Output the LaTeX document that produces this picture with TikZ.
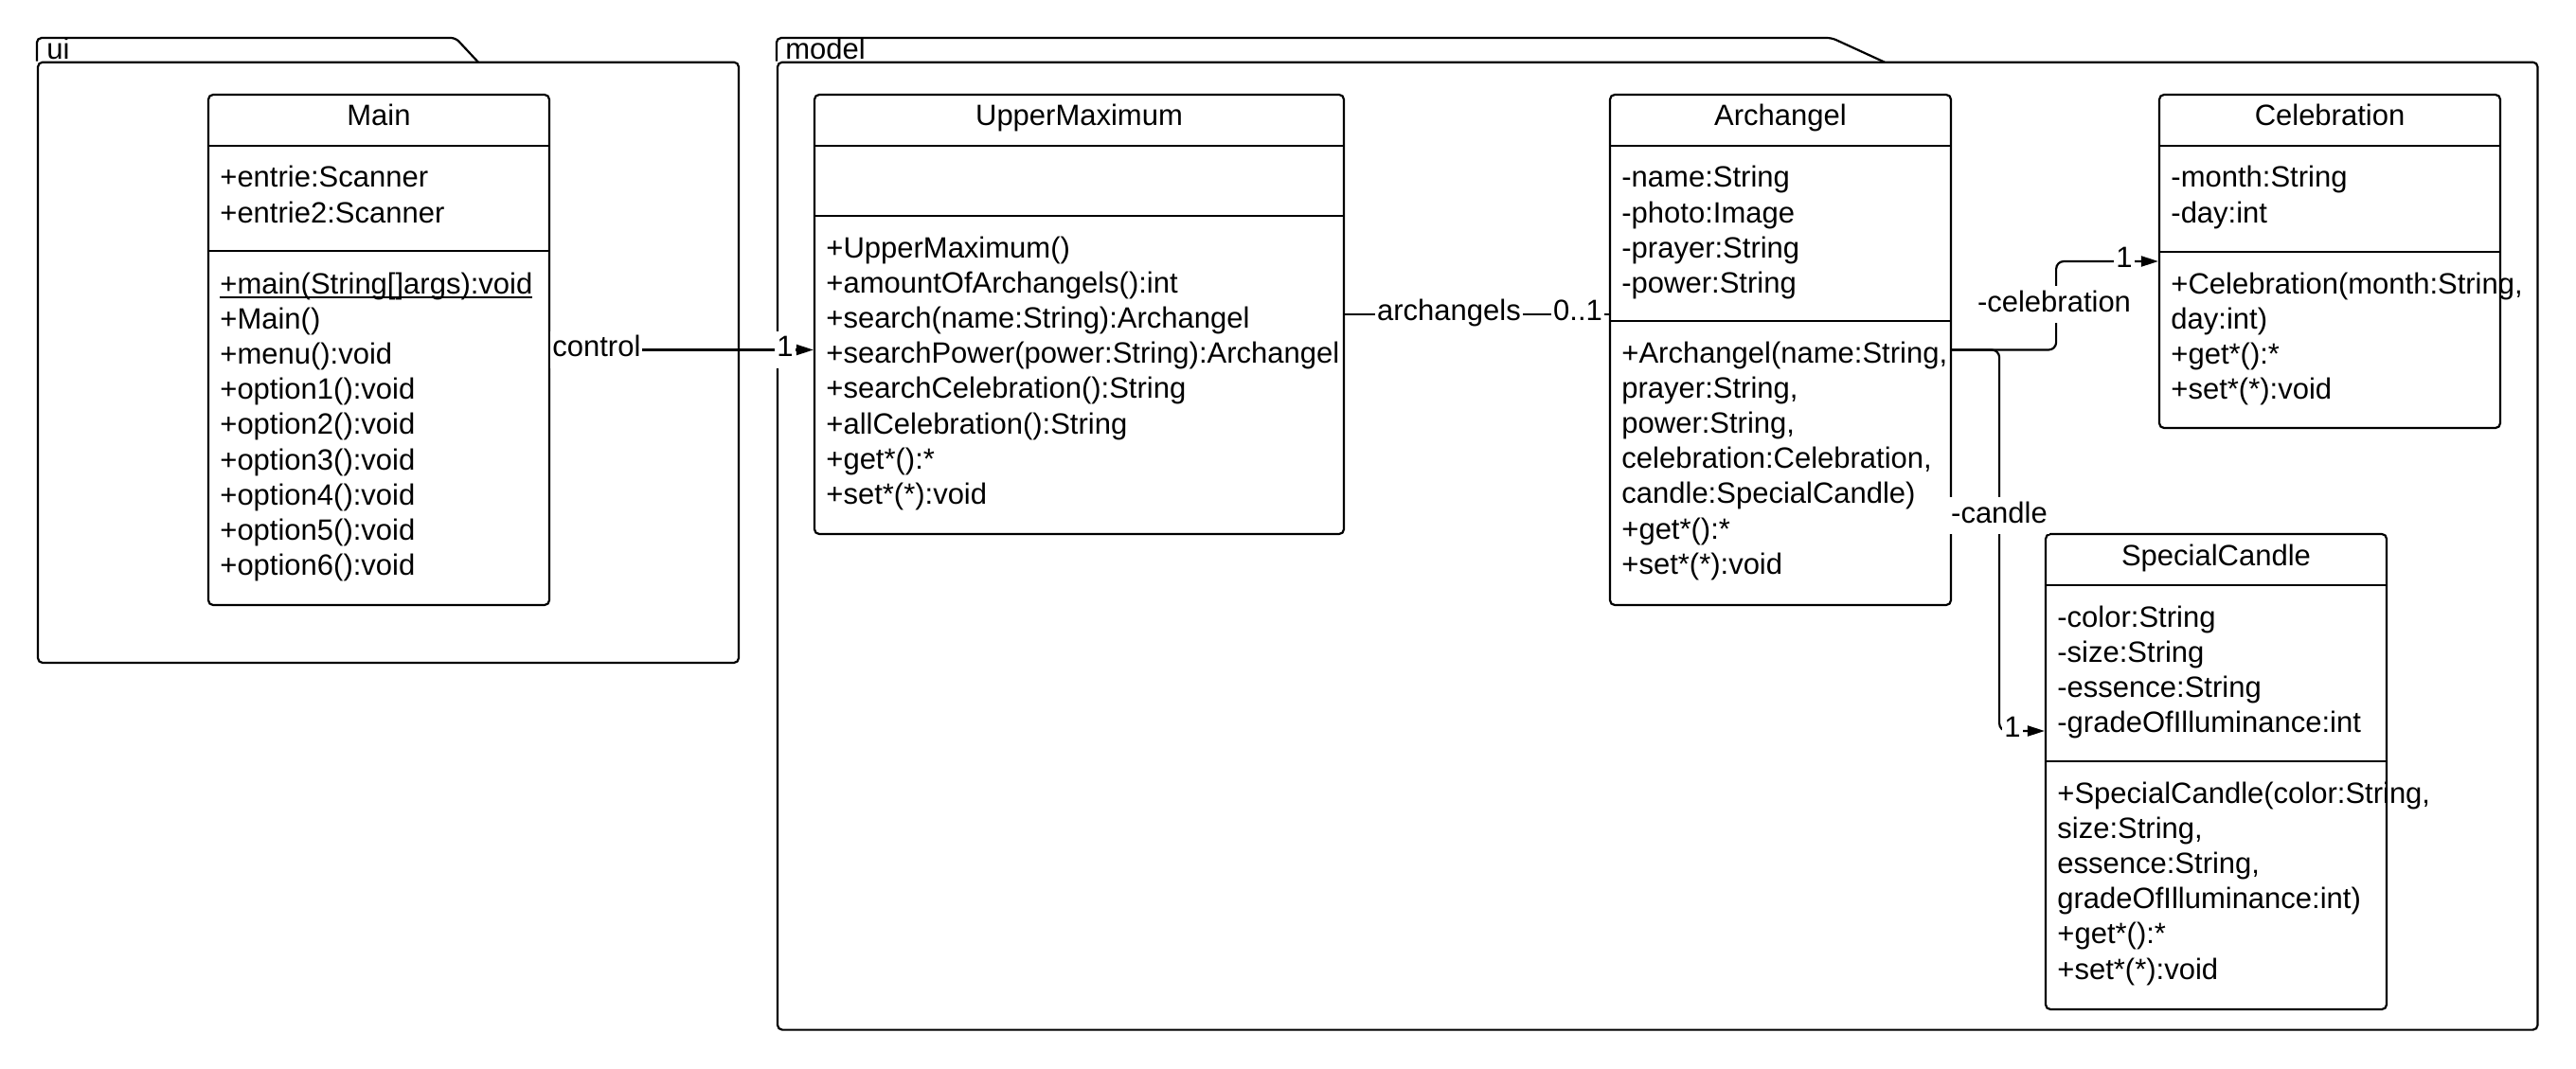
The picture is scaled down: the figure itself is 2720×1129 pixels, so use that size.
\documentclass[tikz,border=0pt]{standalone}
\usepackage{fontspec}
\setmainfont{Liberation Sans}
\usetikzlibrary{fit,arrows.meta}
\newcommand\umlfont{\fontsize{15.5pt}{18.6pt}\selectfont}
\tikzset{
 ln/.style={line width=1.1pt},
 cls/.style={draw, line width=1.1pt, rounded corners=2.5pt, inner sep=0pt},
 pkg/.style={draw, line width=1.1pt, rounded corners=2.5pt, inner sep=0pt},
 txt/.style={anchor=base west, inner sep=0pt, font=\umlfont},
 ttl/.style={anchor=base, inner sep=0pt, font=\umlfont},
 lbl/.style={anchor=base, fill=white, inner xsep=1pt, inner ysep=2.5pt, text height=11pt, text depth=3.5pt, font=\umlfont},
 assoc/.style={line width=1.1pt},
 nav/.style={assoc, -{Triangle[length=9pt,width=5.5pt]}},
}
\newcommand\myul[1]{\setbox0=\hbox{#1}\rlap{\vrule width\wd0 height -1.3pt depth 2.4pt}\box0}
\newcommand\classlines[4]{\foreach \itm [count=\i from 0] in {#4} {\node[txt] (#1\i) at (#2,{#3+37.2*\i}) {\itm};}}
\begin{document}
\begin{tikzpicture}[x=0.5pt,y=-0.5pt]
\useasboundingbox (0,0) rectangle (2720,1129);
% packages
\node[pkg, fit={(40,65.7)(780,700)}] (ui) {};
\draw[ln, rounded corners=2.5pt] (ui.north west) |- (481,40) -- (505,65.7);
\node[txt] (uilbl) at (49,63) {ui};
\node[pkg, fit={(821,65.7)(2679.5,1087.6)}] (model) {};
\draw[ln, rounded corners=2.5pt] (model.north west) |- (1934,40) -- (1990,65.7);
\node[txt] (modellbl) at (829,63) {model};
% Main
\node[cls, fit={(220,100)(580,639)}] (main) {};
\draw[ln] (220,154) -- (580,154) (220,265) -- (580,265);
\node[ttl] (maint) at (400,133) {Main};
\classlines{maina}{232}{198}{+entrie:Scanner,+entrie2:Scanner}
\classlines{mainm}{232}{310}{{\myul{+main(String[]args):void}},{+Main()},{+menu():void},{+option1():void},{+option2():void},{+option3():void},{+option4():void},{+option5():void},{+option6():void}}
% UpperMaximum
\node[cls, fit={(860,100)(1419,564)}] (um) {};
\draw[ln] (860,154) -- (1419,154) (860,228) -- (1419,228);
\node[ttl] (umt) at (1139.5,133) {UpperMaximum};
\classlines{umm}{872}{272}{{+UpperMaximum()},{+amountOfArchangels():int},{+search(name:String):Archangel},{+searchPower(power:String):Archangel},{+searchCelebration():String},{+allCelebration():String},{+get*():*},{+set*(*):void}}
% Archangel
\node[cls, fit={(1700,100)(2060,639)}] (arch) {};
\draw[ln] (1700,154) -- (2060,154) (1700,339) -- (2060,339);
\node[ttl] (archt) at (1880,133) {Archangel};
\classlines{archa}{1712}{198}{{-name:String},{-photo:Image},{-prayer:String},{-power:String}}
\classlines{archm}{1712}{383}{{+Archangel(name:String,},{prayer:String,},{power:String,},{celebration:Celebration,},{candle:SpecialCandle)},{+get*():*},{+set*(*):void}}
% Celebration
\node[cls, fit={(2280,100)(2640,452)}] (cel) {};
\draw[ln] (2280,154) -- (2640,154) (2280,266) -- (2640,266);
\node[ttl] (celt) at (2460,133) {Celebration};
\classlines{cela}{2292}{198}{{-month:String},{-day:int}}
\classlines{celm}{2292}{310}{{+Celebration(month:String,},{day:int)},{+get*():*},{+set*(*):void}}
% SpecialCandle
\node[cls, fit={(2160,564)(2520,1066)}] (sc) {};
\draw[ln] (2160,618) -- (2520,618) (2160,804) -- (2520,804);
\node[ttl] (sct) at (2340,597) {SpecialCandle};
\classlines{sca}{2172}{662}{{-color:String},{-size:String},{-essence:String},{-gradeOfIlluminance:int}}
\classlines{scm}{2172}{848}{{+SpecialCandle(color:String,},{size:String,},{essence:String,},{gradeOfIlluminance:int)},{+get*():*},{+set*(*):void}}
% connectors
\draw[nav] (main.east) -- (main.east -| um.west);
\node[lbl, anchor=base west] (lcontrol) at (581,376.5) {control};
\node[lbl, anchor=base east] (lone1) at (840,376.5) {1};
\draw[assoc] (um.east) -- (um.east -| arch.west);
\node[lbl] (larch) at (1530,338.5) {archangels};
\node[lbl] (lzero) at (1666,338.5) {0..1};
\draw[nav, rounded corners=4pt] (arch.east) -- ++(110,0) |- (cel.west);
\node[lbl] (lcel) at (2169,329) {-celebration};
\node[lbl] (lone2) at (2243,282.5) {1};
\coordinate (scin) at (sc.west |- 0,772);
\draw[nav, rounded corners=4pt] (arch.east) -- ++(50,0) |- (scin);
\node[lbl] (lcandle) at (2111,552) {-candle};
\node[lbl] (lone3) at (2125,778) {1};
\end{tikzpicture}
\end{document}
